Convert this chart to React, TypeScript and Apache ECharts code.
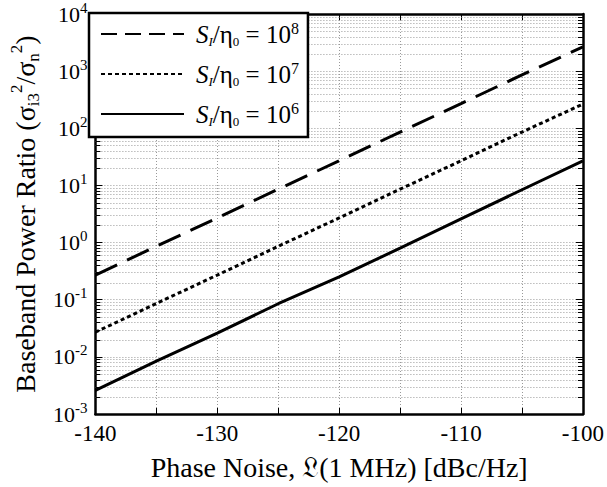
import React, { useEffect, useRef } from "react";
import * as echarts from "echarts";

// ---- data ----
const phaseNoise = [-140, -135, -130, -125, -120, -115, -110, -105, -100];
const ratio1e8 = [0.27, 0.86, 2.7, 8.6, 27, 86, 270, 860, 2650];
const ratio1e7 = [0.027, 0.086, 0.27, 0.86, 2.7, 8.6, 27, 86, 265];
const ratio1e6 = [0.0026, 0.0084, 0.026, 0.085, 0.25, 0.8, 2.6, 8.4, 27];
const seriesNames = ["1e8", "1e7", "1e6"];
const legendExponents = ["8", "7", "6"];
const xTickLabels = [-140, -130, -120, -110, -100];
const yDecades = [-3, -2, -1, 0, 1, 2, 3, 4];
const minorMultipliers = [2, 3, 4, 5, 6, 7, 8, 9];

const X_MIN = -140;
const X_MAX = -100;
const Y_MIN = 1e-3;
const Y_MAX = 1e4;

const FONT = "Liberation Serif";

export default function App() {
  const ref = useRef<HTMLDivElement>(null);

  useEffect(() => {
    if (!ref.current) return;
    const chart = echarts.init(ref.current, undefined, { renderer: "svg" });

    const minorValues: number[] = [];
    yDecades.slice(0, -1).forEach((d) => {
      minorMultipliers.forEach((m) => minorValues.push(m * Math.pow(10, d)));
    });

    const toPairs = (ys: number[]) => phaseNoise.map((x, i) => [x, ys[i]]);

    const legendText = (name: string) => {
      const idx = seriesNames.indexOf(name);
      return `{s|S}{si|I}{t|/η}{ns|0}{t| = 10}{sup|${legendExponents[idx]}}`;
    };

    const option: any = {
      animation: false,
      textStyle: { fontFamily: FONT },
      grid: { left: 89, right: 10, top: 13, bottom: 73 },
      legend: {
        orient: "vertical",
        left: 89,
        top: 13,
        padding: [7, 9, 9, 11],
        itemGap: 12,
        itemWidth: 83,
        itemHeight: 14,
        backgroundColor: "#fff",
        borderColor: "#000",
        borderWidth: 2.5,
        borderRadius: 0,
        selectedMode: false,
        formatter: legendText,
        itemStyle: { opacity: 0 },
        textStyle: {
          fontFamily: FONT,
          padding: [0, 0, 0, 7],
          rich: {
            s: { fontFamily: FONT, fontSize: 25, fontStyle: "italic", color: "#000", lineHeight: 28 },
            si: { fontFamily: FONT, fontSize: 13, fontStyle: "italic", color: "#000", lineHeight: 12, verticalAlign: "bottom" },
            t: { fontFamily: FONT, fontSize: 25, color: "#000", lineHeight: 28 },
            ns: { fontFamily: FONT, fontSize: 13, color: "#000", lineHeight: 12, verticalAlign: "bottom" },
            sup: { fontFamily: FONT, fontSize: 16, color: "#000", lineHeight: 14, verticalAlign: "top" },
          },
        },
        data: [
          { name: "1e8", lineStyle: { type: [16, 8] } },
          { name: "1e7", lineStyle: { type: [4, 3] } },
          { name: "1e6" },
        ],
      },
      xAxis: [
        {
          type: "value",
          min: X_MIN,
          max: X_MAX,
          interval: 5,
          position: "bottom",
          name: "Phase Noise, 𝔏(1 MHz) [dBc/Hz]",
          nameLocation: "middle",
          nameGap: 39,
          nameTextStyle: { fontFamily: FONT, fontSize: 28, color: "#000" },
          axisLine: { onZero: false, lineStyle: { color: "#000", width: 2.5 } },
          axisTick: { inside: true, length: 6, lineStyle: { color: "#000", width: 1 } },
          axisLabel: {
            margin: 8,
            fontFamily: FONT,
            fontSize: 23,
            color: "#000",
            formatter: (v: number) => (xTickLabels.includes(v) ? String(v) : ""),
          },
          splitLine: { show: true, lineStyle: { color: "#999", width: 1, type: [1, 2] } },
        },
        {
          type: "value",
          min: X_MIN,
          max: X_MAX,
          interval: 5,
          position: "top",
          axisLine: { onZero: false, lineStyle: { color: "#000", width: 2.5 } },
          axisTick: { inside: true, length: 6, lineStyle: { color: "#000", width: 1 } },
          axisLabel: { show: false },
          splitLine: { show: false },
        },
      ],
      yAxis: [
        {
          type: "log",
          logBase: 10,
          min: Y_MIN,
          max: Y_MAX,
          splitNumber: 7,
          position: "left",
          name: "{t|Baseband Power Ratio (σ}{sub|i3}{sup|2}{t|/σ}{sub|n}{sup|2}{t|)}",
          nameLocation: "middle",
          nameRotate: 90,
          nameGap: 47,
          nameTextStyle: {
            fontFamily: FONT,
            rich: {
              t: { fontFamily: FONT, fontSize: 28, color: "#000", lineHeight: 34 },
              sub: { fontFamily: FONT, fontSize: 17, color: "#000", lineHeight: 14, verticalAlign: "bottom" },
              sup: { fontFamily: FONT, fontSize: 17, color: "#000", lineHeight: 16, verticalAlign: "top" },
            },
          },
          axisLine: { onZero: false, lineStyle: { color: "#000", width: 2.5 } },
          axisTick: { inside: true, length: 7, lineStyle: { color: "#000", width: 1 } },
          axisLabel: {
            margin: 8,
            fontFamily: FONT,
            formatter: (v: number) => `{b|10}{e|${Math.round(Math.log10(v))}}`,
            rich: {
              b: { fontFamily: FONT, fontSize: 22, color: "#000", lineHeight: 28 },
              e: { fontFamily: FONT, fontSize: 15, color: "#000", lineHeight: 15, verticalAlign: "top" },
            },
          },
          splitLine: { show: true, lineStyle: { color: "#999", width: 1, type: [1, 2] } },
        },
        {
          type: "log",
          logBase: 10,
          min: Y_MIN,
          max: Y_MAX,
          splitNumber: 7,
          position: "right",
          axisLine: { onZero: false, lineStyle: { color: "#000", width: 2.5 } },
          axisTick: { inside: true, length: 7, lineStyle: { color: "#000", width: 1 } },
          axisLabel: { show: false },
          splitLine: { show: false },
        },
      ],
      series: [
        {
          type: "custom",
          name: "minorGrid",
          xAxisIndex: 0,
          yAxisIndex: 0,
          silent: true,
          z: 1,
          data: minorValues.map((v) => [X_MIN, v]),
          renderItem: (_params: any, api: any) => {
            const v = api.value(1);
            const p1 = api.coord([X_MIN, v]);
            const p2 = api.coord([X_MAX, v]);
            const y = Math.round(p1[1]) + 0.5;
            return {
              type: "group",
              children: [
                {
                  type: "line",
                  shape: { x1: p1[0], y1: y, x2: p2[0], y2: y },
                  style: { stroke: "#999", lineWidth: 1, lineDash: [1, 2] },
                },
                {
                  type: "line",
                  shape: { x1: p1[0], y1: y, x2: p1[0] + 5, y2: y },
                  style: { stroke: "#000", lineWidth: 1 },
                },
                {
                  type: "line",
                  shape: { x1: p2[0] - 5, y1: y, x2: p2[0], y2: y },
                  style: { stroke: "#000", lineWidth: 1 },
                },
              ],
            };
          },
        },
        {
          type: "line",
          name: "1e8",
          data: toPairs(ratio1e8),
          showSymbol: false,
          symbol: "none",
          z: 3,
          lineStyle: { color: "#000", width: 3, type: [24, 11] },
          itemStyle: { color: "#000" },
        },
        {
          type: "line",
          name: "1e7",
          data: toPairs(ratio1e7),
          showSymbol: false,
          symbol: "none",
          z: 3,
          lineStyle: { color: "#000", width: 3, type: [4, 3] },
          itemStyle: { color: "#000" },
        },
        {
          type: "line",
          name: "1e6",
          data: toPairs(ratio1e6),
          showSymbol: false,
          symbol: "none",
          z: 3,
          lineStyle: { color: "#000", width: 3, type: "solid" },
          itemStyle: { color: "#000" },
        },
      ],
    };

    chart.setOption(option);
    return () => chart.dispose();
  }, []);

  return <div ref={ref} style={{ width: 607, height: 487, position: "absolute", left: 0, top: 0, background: "#fff" }} />;
}
